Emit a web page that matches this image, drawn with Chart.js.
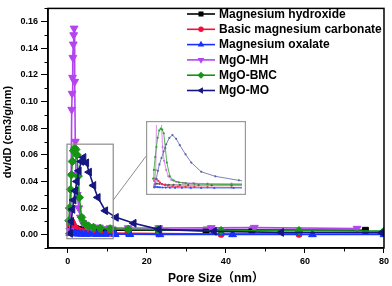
<!DOCTYPE html>
<html>
<head>
<meta charset="utf-8">
<script src="https://cdn.jsdelivr.net/npm/chart.js@4/dist/chart.umd.min.js"></script>
<style>
  html, body { margin: 0; padding: 0; background: #fff; }
  #wrap { position: relative; width: 392px; height: 286px; }
  #chart { position: absolute; left: 0; top: 0; }
  #inset { position: absolute; left: 146px; top: 121px; }
</style>
</head>
<body>
<div id="wrap">
  <canvas id="chart" width="392" height="286"></canvas>
  <canvas id="inset" width="100" height="74"></canvas>
</div>
<script>
// pore size (nm) and dv/dD (cm3/g/nm)
const seriesNames = ['Magnesium hydroxide', 'Basic magnesium carbonate', 'Magnesium oxalate', 'MgO-MH', 'MgO-BMC', 'MgO-MO'];

const poreMH = [0.6, 1.0, 1.5, 2.0, 2.6, 3.3, 4.2, 5.4, 7.0, 9.0, 11.5, 15.3, 23, 35, 46.6, 75.3];
const dvMH = [0.0045, 0.005, 0.0048, 0.0045, 0.004, 0.0038, 0.0037, 0.0036, 0.0035, 0.0035, 0.0034, 0.0034, 0.0034, 0.0034, 0.0034, 0.0033];

const poreBMC = [0.5, 0.7, 1.0, 1.3, 1.6, 2.0, 2.5, 3.1, 4.0, 5.0, 6.5, 8.2, 10.7, 15.3, 23, 38.8, 58.5];
const dvBMC = [0.008, 0.0105, 0.0098, 0.008, 0.0062, 0.0045, 0.0035, 0.0028, 0.0022, 0.0019, 0.0016, 0.0014, 0.0012, 0.001, 0.0008, 0.0004, 0.0004];

const poreMO = [0.5, 0.8, 1.2, 1.6, 2.1, 2.7, 3.5, 4.5, 5.8, 7.5, 9.5, 12, 15.7, 23.3, 41.7, 61.9, 80];
const dvMO = [0.0012, 0.0015, 0.0012, 0.001, 0.0008, 0.0007, 0.0006, 0.0005, 0.0005, 0.0004, 0.0004, 0.0003, 0.0003, 0.0002, 0.0002, 0.0002, 0.0002];

const poreMgoMH = [0.5, 0.8, 1.0, 1.1, 1.2, 1.3, 1.4, 1.5, 1.6, 1.75, 1.9, 2.1, 2.4, 2.8, 3.2, 3.8, 4.7, 6, 8, 10.7, 15.3, 23, 36.3, 47.2, 73.2];
const dvMgoMH = [0.003, 0.02, 0.094, 0.106, 0.118, 0.133, 0.143, 0.15, 0.155, 0.115, 0.07, 0.045, 0.03, 0.02, 0.013, 0.009, 0.007, 0.006, 0.0055, 0.005, 0.005, 0.005, 0.0051, 0.0053, 0.0046];

const poreMgoBMC = [0.3, 0.45, 0.7, 0.93, 1.16, 1.46, 1.75, 2.04, 2.33, 2.63, 2.92, 3.5, 4.2, 5.2, 6.5, 8.2, 10.7, 15.3, 22.8, 38.8, 58.5, 80];
const dvMgoBMC = [0.0105, 0.02, 0.034, 0.045, 0.055, 0.063, 0.065, 0.064, 0.06, 0.044, 0.028, 0.013, 0.0085, 0.0065, 0.0055, 0.0048, 0.0044, 0.004, 0.0038, 0.003, 0.003, 0.0027];

const poreMgoMO = [0.6, 0.9, 1.2, 1.5, 1.9, 2.3, 2.8, 3.4, 4.0, 4.7, 5.4, 6.5, 7.6, 9.5, 12.2, 16.7, 23, 37, 54, 79.5];
const dvMgoMO = [0.001, 0.01, 0.019, 0.026, 0.033, 0.04, 0.048, 0.055, 0.058, 0.054, 0.047, 0.037, 0.028, 0.018, 0.013, 0.0086, 0.004, 0.0025, 0.0017, 0.0015];

const xTicks = [0, 20, 40, 60, 80];
const yTicks = [0, 0.02, 0.04, 0.06, 0.08, 0.10, 0.12, 0.14, 0.16];

const FONT = "'Liberation Sans', Arial, 'Noto Sans CJK SC', sans-serif";

const styles = [
    { color: '#000000', point: 'rect', rot: 0, r: 4.2 },
    { color: '#f0103c', point: 'circle', rot: 0, r: 3.2 },
    { color: '#1530ff', point: 'triangle', rot: 0, r: 4.5 },
    { color: '#b444f0', point: 'triangle', rot: 180, r: 4.5 },
    { color: '#169416', point: 'rectRot', rot: 0, r: 4.2 },
    { color: '#161680', point: 'triangle', rot: 270, r: 4.5 }
];
const insetColors = ['#555555', '#f03050', '#3050ff', '#d070f0', '#30a030', '#5a64a8'];

const pores = [poreMH, poreBMC, poreMO, poreMgoMH, poreMgoBMC, poreMgoMO];
const dvs = [dvMH, dvBMC, dvMO, dvMgoMH, dvMgoBMC, dvMgoMO];

function makeDatasets(small) {
    return seriesNames.map((name, i) => {
        const s = styles[i];
        const c = small ? insetColors[i] : s.color;
        return {
            label: name,
            data: pores[i].map((x, k) => ({ x: x, y: dvs[i][k] })),
            borderColor: c,
            backgroundColor: c,
            borderWidth: small ? 0.8 : 1.6,
            pointStyle: small ? 'circle' : s.point,
            pointRotation: s.rot,
            pointRadius: small ? 1.1 : s.r,
            pointBorderWidth: small ? 0 : 1,
            order: 6 - i
        };
    });
}

function drawMarker(ctx, s, x, y) {
    ctx.save();
    ctx.translate(x, y);
    ctx.rotate(s.rot * Math.PI / 180);
    ctx.fillStyle = s.color;
    ctx.beginPath();
    const r = s.r;
    if (s.point === 'circle') {
        ctx.arc(0, 0, r, 0, Math.PI * 2);
    } else if (s.point === 'rect') {
        const h = r * Math.SQRT1_2;
        ctx.rect(-h, -h, 2 * h, 2 * h);
    } else if (s.point === 'rectRot') {
        ctx.moveTo(0, -r); ctx.lineTo(r, 0); ctx.lineTo(0, r); ctx.lineTo(-r, 0);
    } else {
        ctx.moveTo(0, -r); ctx.lineTo(r * 0.866, r * 0.5); ctx.lineTo(-r * 0.866, r * 0.5);
    }
    ctx.closePath();
    ctx.fill();
    ctx.restore();
}

const decorPlugin = {
    id: 'decor',
    afterDraw(chart) {
        const ctx = chart.ctx;
        const a = chart.chartArea;
        const xs = chart.scales.x, ys = chart.scales.y;
        ctx.save();
        // frame
        ctx.strokeStyle = '#000';
        ctx.lineWidth = 1.5;
        ctx.strokeRect(a.left, a.top, a.right - a.left, a.bottom - a.top);
        // minor ticks
        ctx.lineWidth = 1;
        ctx.beginPath();
        for (let v = -0.01; v < 0.17; v += 0.02) {
            const py = Math.round(ys.getPixelForValue(v)) + 0.5;
            ctx.moveTo(a.left - 3.5, py); ctx.lineTo(a.left, py);
        }
        for (let v = 10; v < 80; v += 20) {
            const px = Math.round(xs.getPixelForValue(v)) + 0.5;
            ctx.moveTo(px, a.bottom); ctx.lineTo(px, a.bottom + 3.5);
        }
        ctx.stroke();
        // zoom box and connector
        ctx.strokeStyle = '#8c8c8c';
        ctx.lineWidth = 1.2;
        const bx0 = xs.getPixelForValue(-0.2), bx1 = xs.getPixelForValue(11.5);
        const by0 = ys.getPixelForValue(0.068), by1 = ys.getPixelForValue(-0.003);
        ctx.strokeRect(bx0, by0, bx1 - bx0, by1 - by0);
        ctx.lineWidth = 1;
        ctx.beginPath();
        ctx.moveTo(bx1, ys.getPixelForValue(0.026));
        ctx.lineTo(xs.getPixelForValue(19.8), ys.getPixelForValue(0.059));
        ctx.stroke();
        // legend
        ctx.font = 'bold 12px ' + FONT;
        ctx.textBaseline = 'middle';
        ctx.textAlign = 'left';
        seriesNames.forEach((name, i) => {
            const s = styles[i];
            const ly = 14 + i * 15.3;
            ctx.strokeStyle = s.color;
            ctx.lineWidth = 1.6;
            ctx.beginPath();
            ctx.moveTo(187, ly); ctx.lineTo(215, ly);
            ctx.stroke();
            drawMarker(ctx, Object.assign({}, s, { r: s.r * 0.85 }), 201, ly);
            ctx.fillStyle = '#000';
            ctx.fillText(name, 219, ly + 0.5);
        });
        // axis titles
        ctx.font = 'bold 12px ' + FONT;
        ctx.textAlign = 'center';
        ctx.fillText('Pore Size（nm）', (a.left + a.right) / 2, 279);
        ctx.translate(8, 132);
        ctx.rotate(-Math.PI / 2);
        ctx.font = 'bold 11px ' + FONT;
        ctx.fillText('dv/dD (cm3/g/nm)', 0, 0);
        ctx.restore();
    }
};

const mainChart = new Chart(document.getElementById('chart').getContext('2d'), {
    type: 'line',
    data: { datasets: makeDatasets(false) },
    options: {
        responsive: false,
        animation: false,
        devicePixelRatio: 1,
        layout: { padding: { top: 2, right: 7, left: 0, bottom: 0 } },
        plugins: { legend: { display: false }, tooltip: { enabled: false } },
        scales: {
            x: {
                type: 'linear',
                min: -5,
                max: 80,
                afterFit: (s) => { s.height = 38; },
                afterBuildTicks: (s) => { s.ticks = xTicks.map(v => ({ value: v })); },
                border: { display: true, color: '#000', width: 1.5 },
                grid: { drawOnChartArea: false, drawTicks: true, tickLength: 5, color: '#000', tickColor: '#000' },
                ticks: { color: '#000', font: { family: FONT, size: 9, weight: 'bold' }, padding: 3, maxRotation: 0,
                    callback: (v) => String(v) }
            },
            y: {
                type: 'linear',
                min: -0.01,
                max: 0.17,
                afterFit: (s) => { s.width = 48; },
                afterBuildTicks: (s) => { s.ticks = yTicks.map(v => ({ value: v })); },
                border: { display: true, color: '#000', width: 1.5 },
                grid: { drawOnChartArea: false, drawTicks: true, tickLength: 7, color: '#000', tickColor: '#000' },
                ticks: { color: '#000', font: { family: FONT, size: 9, weight: 'bold' }, padding: 3,
                    callback: (v) => Number(v).toFixed(2) }
            }
        }
    },
    plugins: [decorPlugin]
});

const insetBorder = {
    id: 'insetBorder',
    afterDraw(chart) {
        const ctx = chart.ctx;
        ctx.save();
        ctx.strokeStyle = '#9a9a9a';
        ctx.lineWidth = 1.2;
        ctx.strokeRect(0.6, 0.6, chart.width - 1.2, chart.height - 1.2);
        ctx.restore();
    }
};

const insetChart = new Chart(document.getElementById('inset').getContext('2d'), {
    type: 'line',
    data: { datasets: makeDatasets(true) },
    options: {
        responsive: false,
        animation: false,
        devicePixelRatio: 1,
        layout: { padding: 0 },
        plugins: { legend: { display: false }, tooltip: { enabled: false } },
        scales: {
            x: { type: 'linear', display: false, min: -0.3, max: 17.3 },
            y: { type: 'linear', display: false, min: -0.003, max: 0.069 }
        }
    },
    plugins: [insetBorder]
});
</script>
</body>
</html>
